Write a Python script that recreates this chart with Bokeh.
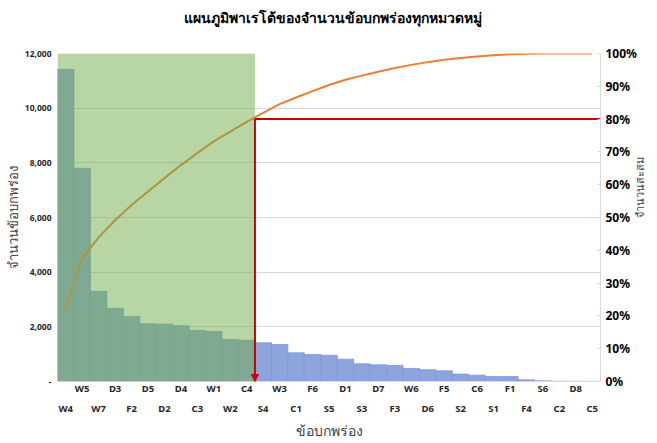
import math
from bokeh.plotting import figure
from bokeh.layouts import column
from bokeh.models import (Range1d, LinearAxis, FixedTicker, NumeralTickFormatter,
                          BoxAnnotation, Arrow, NormalHead, ColumnDataSource, Grid, Div)
from bokeh.embed import file_html
from bokeh.resources import INLINE

categories = ["W4", "W5", "W7", "D3", "F2", "D5", "D2", "D4", "C3", "W1", "W2", "C4",
              "S4", "W3", "C1", "F6", "S5", "D1", "S3", "D7", "F3", "W6", "D6", "F5",
              "S2", "C6", "S1", "F1", "F4", "S6", "C2", "D8", "C5"]
counts = [11420, 7800, 3300, 2680, 2380, 2110, 2100, 2040, 1870, 1830, 1540, 1510,
          1415, 1355, 1050, 990, 960, 815, 645, 610, 590, 480, 430, 390,
          270, 230, 180, 180, 60, 25, 8, 5, 2]
left_ticks = [0, 2000, 4000, 6000, 8000, 10000, 12000]
right_ticks = [0.0, 0.1, 0.2, 0.3, 0.4, 0.5, 0.6, 0.7, 0.8, 0.9, 1.0]
threshold = 0.8
vital_few_count = 12

title_text = "แผนภูมิพาเรโต้ของจำนวนข้อบกพร่องทุกหมวดหมู่"
x_label = "ข้อบกพร่อง"
y_label = "จำนวนข้อบกพร่อง"
y2_label = "จำนวนสะสม"

n = len(categories)
total = float(sum(counts))
cum = []
run = 0
for c in counts:
    run += c
    cum.append(run / total)
centers = [i + 0.5 for i in range(n)]

src = ColumnDataSource(dict(x=centers, top=counts, cum=cum))

FONT = "Noto Sans"
TITLE_H = 36

title_div = Div(text=title_text, width=657, height=TITLE_H, margin=(0, 0, 0, 0),
                styles={"text-align": "center", "font-weight": "bold",
                        "font-size": "14px", "font-family": FONT, "color": "#000000",
                        "line-height": f"{TITLE_H}px", "width": "657px",
                        "padding-left": "8px", "box-sizing": "border-box"})

p = figure(width=657, height=443 - TITLE_H, output_backend="svg", toolbar_location=None,
           x_range=Range1d(0, n), y_range=Range1d(0, max(left_ticks)),
           x_axis_type=None, y_axis_type=None, title=None, margin=(0, 0, 0, 0),
           min_border_left=57, min_border_right=52, min_border_top=53 - TITLE_H,
           min_border_bottom=62)
p.extra_y_ranges = {"pct": Range1d(0, 1)}
p.outline_line_color = None
p.background_fill_color = "white"

# left axis
yax = LinearAxis(ticker=FixedTicker(ticks=left_ticks),
                 formatter=NumeralTickFormatter(format="0,0"))
yax.major_label_overrides = {0: "-"}
yax.axis_line_color = None
yax.major_tick_line_color = None
yax.minor_tick_line_color = None
yax.major_tick_out = 0
yax.major_label_standoff = 6
yax.major_label_text_font = FONT
yax.major_label_text_font_size = "8.5px"
yax.major_label_text_font_style = "bold"
yax.major_label_text_color = "#262626"
yax.axis_label = y_label
yax.axis_label_text_font = FONT
yax.axis_label_text_font_size = "13px"
yax.axis_label_text_font_style = "normal"
yax.axis_label_text_color = "#404040"
yax.axis_label_standoff = 0
p.add_layout(yax, "left")

# right axis
rax = LinearAxis(y_range_name="pct", ticker=FixedTicker(ticks=right_ticks),
                 formatter=NumeralTickFormatter(format="0%"))
rax.axis_line_color = "#d9d9d9"
rax.major_tick_line_color = "#d9d9d9"
rax.minor_tick_line_color = None
rax.major_tick_in = 3
rax.major_tick_out = 0
rax.major_label_standoff = 5
rax.major_label_text_font = FONT
rax.major_label_text_font_size = "12px"
rax.major_label_text_font_style = "bold"
rax.major_label_text_color = "#000000"
rax.axis_label = y2_label
rax.axis_label_text_font = FONT
rax.axis_label_text_font_size = "11px"
rax.axis_label_text_font_style = "normal"
rax.axis_label_text_color = "#404040"
rax.axis_label_standoff = 0
rax.axis_label_orientation = math.pi / 2
p.add_layout(rax, "right")

# two staggered category axes
def cat_axis(parity):
    ticks = [centers[i] for i in range(n) if i % 2 == parity]
    ax = LinearAxis(ticker=FixedTicker(ticks=ticks))
    ax.major_label_overrides = {centers[i]: categories[i] for i in range(n) if i % 2 == parity}
    ax.major_tick_line_color = None
    ax.minor_tick_line_color = None
    ax.major_tick_out = 0
    ax.major_tick_in = 0
    ax.major_label_text_font = FONT
    ax.major_label_text_font_size = "9.5px"
    ax.major_label_text_font_style = "bold"
    ax.major_label_text_color = "#262626"
    return ax

ax1 = cat_axis(1)
ax1.axis_line_color = "#d9d9d9"
ax1.major_label_standoff = 0
p.add_layout(ax1, "below")

ax2 = cat_axis(0)
ax2.axis_line_color = None
ax2.major_label_standoff = 4
ax2.axis_label = x_label
ax2.axis_label_text_font = FONT
ax2.axis_label_text_font_size = "14px"
ax2.axis_label_text_font_style = "normal"
ax2.axis_label_text_color = "#404040"
ax2.axis_label_standoff = 3
p.add_layout(ax2, "below")

# grid
p.ygrid.visible = False
g = Grid(dimension=1, ticker=FixedTicker(ticks=left_ticks), grid_line_color="#d9d9d9",
         grid_line_width=1)
p.add_layout(g)

# bars
p.vbar(x="x", top="top", width=1, bottom=0, source=src,
       fill_color="#8EA5DB", line_color="#7F98D6", line_width=0.8)

# cumulative line
p.line(x="x", y="cum", source=src, y_range_name="pct",
       line_color="#ED7D31", line_width=2)

# vital few shading
box = BoxAnnotation(left=0, right=vital_few_count, fill_color="#70AD47",
                    fill_alpha=0.5, line_color=None)
p.add_layout(box)

# threshold lines
p.segment(x0=[vital_few_count], x1=[n], y0=[threshold], y1=[threshold],
          y_range_name="pct", line_color="#CC0000", line_width=2)
arr = Arrow(x_start=vital_few_count, y_start=threshold, x_end=vital_few_count, y_end=0,
            y_range_name="pct", line_color="#CC0000", line_width=2,
            end=NormalHead(size=7, fill_color="#CC0000", line_color="#CC0000"))
p.add_layout(arr)

layout = column(title_div, p, spacing=0, margin=(0, 0, 0, 0))
open("out.html", "w").write(file_html(layout, INLINE))
